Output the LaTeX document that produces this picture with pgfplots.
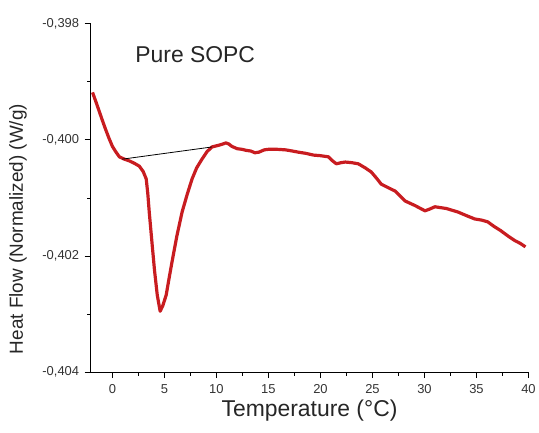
\documentclass[border=0pt]{standalone}
\usepackage{fontspec}
\setmainfont{Liberation Sans}
\usepackage{pgfplots}
\pgfplotsset{compat=1.18}
\definecolor{dscred}{RGB}{200,28,32}

\begin{document}
\begin{tikzpicture}
\begin{axis}[
    width=440pt, height=350pt, scale only axis,
    xmin=-2.1, xmax=40, ymin=-0.404, ymax=-0.398,
    axis x line*=bottom, axis y line*=left,
    axis line style={line width=1pt},
    tick align=outside,
    major tick length=6pt, minor tick length=3.5pt,
    every tick/.style={black, line width=1pt},
    xtick={0,5,...,40}, minor x tick num=1,
    ytick={-0.404,-0.402,-0.400,-0.398}, minor y tick num=1,
    /pgf/number format/assume math mode=true,
    yticklabel style={xshift=-2pt, /pgf/number format/fixed, /pgf/number format/precision=3,
        /pgf/number format/fixed zerofill, /pgf/number format/use comma},
    scaled y ticks=false,
    tick label style={font=\fontsize{13}{15}\selectfont, black!80},
    xticklabel style={yshift=-3pt},
    xlabel={Temperature (°C)},
    ylabel={Heat Flow (Normalized) (W/g)},
    xlabel style={font=\fontsize{23}{26}\selectfont, black!85,
        at={(axis description cs:0.5,-0.11)}, anchor=center},
    ylabel style={font=\fontsize{19}{22}\selectfont, black!85,
        at={(axis description cs:-0.166,0.411)}, anchor=center},
    clip=false
]
\addplot[dscred, line width=3.2pt, line join=round] coordinates {
    (-1.91,-0.39918) (-1.55,-0.39936) (-1.24,-0.39952) (-0.95,-0.39967)
    (-0.67,-0.39981) (-0.33,-0.39997) (0,-0.40011) (0.35,-0.40021)
    (0.67,-0.40029) (1.15,-0.40033) (1.63,-0.40036) (2.1,-0.40040)
    (2.58,-0.40045) (2.95,-0.40054) (3.25,-0.40067) (3.40,-0.40092)
    (3.54,-0.40124) (3.83,-0.40182) (4.05,-0.40225) (4.31,-0.40267)
    (4.59,-0.40295) (4.85,-0.40285) (5.17,-0.40267) (5.45,-0.40238)
    (5.74,-0.40209) (6.2,-0.40165) (6.70,-0.40124) (7.2,-0.40093)
    (7.66,-0.40067) (8.1,-0.40048) (8.61,-0.40033) (9.1,-0.40020)
    (9.57,-0.40012) (10.24,-0.40009) (10.6,-0.40007) (10.91,-0.40005)
    (11.2,-0.40007) (11.48,-0.40011) (12.0,-0.40015) (12.44,-0.40016)
    (12.9,-0.40018) (13.3,-0.40019) (13.7,-0.40022) (14.07,-0.40021)
    (14.6,-0.40017) (15.02,-0.40016) (15.8,-0.40016) (16.65,-0.40017)
    (17.3,-0.40019) (17.89,-0.40021) (18.6,-0.40023) (19.33,-0.40026)
    (20.0,-0.40027) (20.77,-0.40029) (21.1,-0.40035) (21.53,-0.40041)
    (22.0,-0.40039) (22.39,-0.40038) (23.0,-0.40039) (23.64,-0.40041)
    (24.3,-0.40048) (24.88,-0.40055) (25.4,-0.40066) (25.84,-0.40076)
    (26.5,-0.40082) (27.18,-0.40088) (27.7,-0.40097) (28.13,-0.40105)
    (29.1,-0.40113) (30.05,-0.40122) (30.5,-0.40119) (31.0,-0.40115)
    (32.1,-0.40118) (33.21,-0.40124) (34.0,-0.40130) (34.83,-0.40136)
    (35.5,-0.40138) (36.08,-0.40141) (36.7,-0.40149) (37.32,-0.40156)
    (38.0,-0.40165) (38.66,-0.40173) (39.2,-0.40178) (39.71,-0.40184)
};
\addplot[black, line width=0.8pt] coordinates {(0.96,-0.40033) (9.57,-0.40012)};
\node[font=\fontsize{23}{26}\selectfont, black!85] at (axis description cs:0.239,0.911) {Pure SOPC};
\end{axis}
\path (current axis.south west) ++(-91pt,-61pt) rectangle ++(539pt,435pt);
\end{tikzpicture}
\end{document}
